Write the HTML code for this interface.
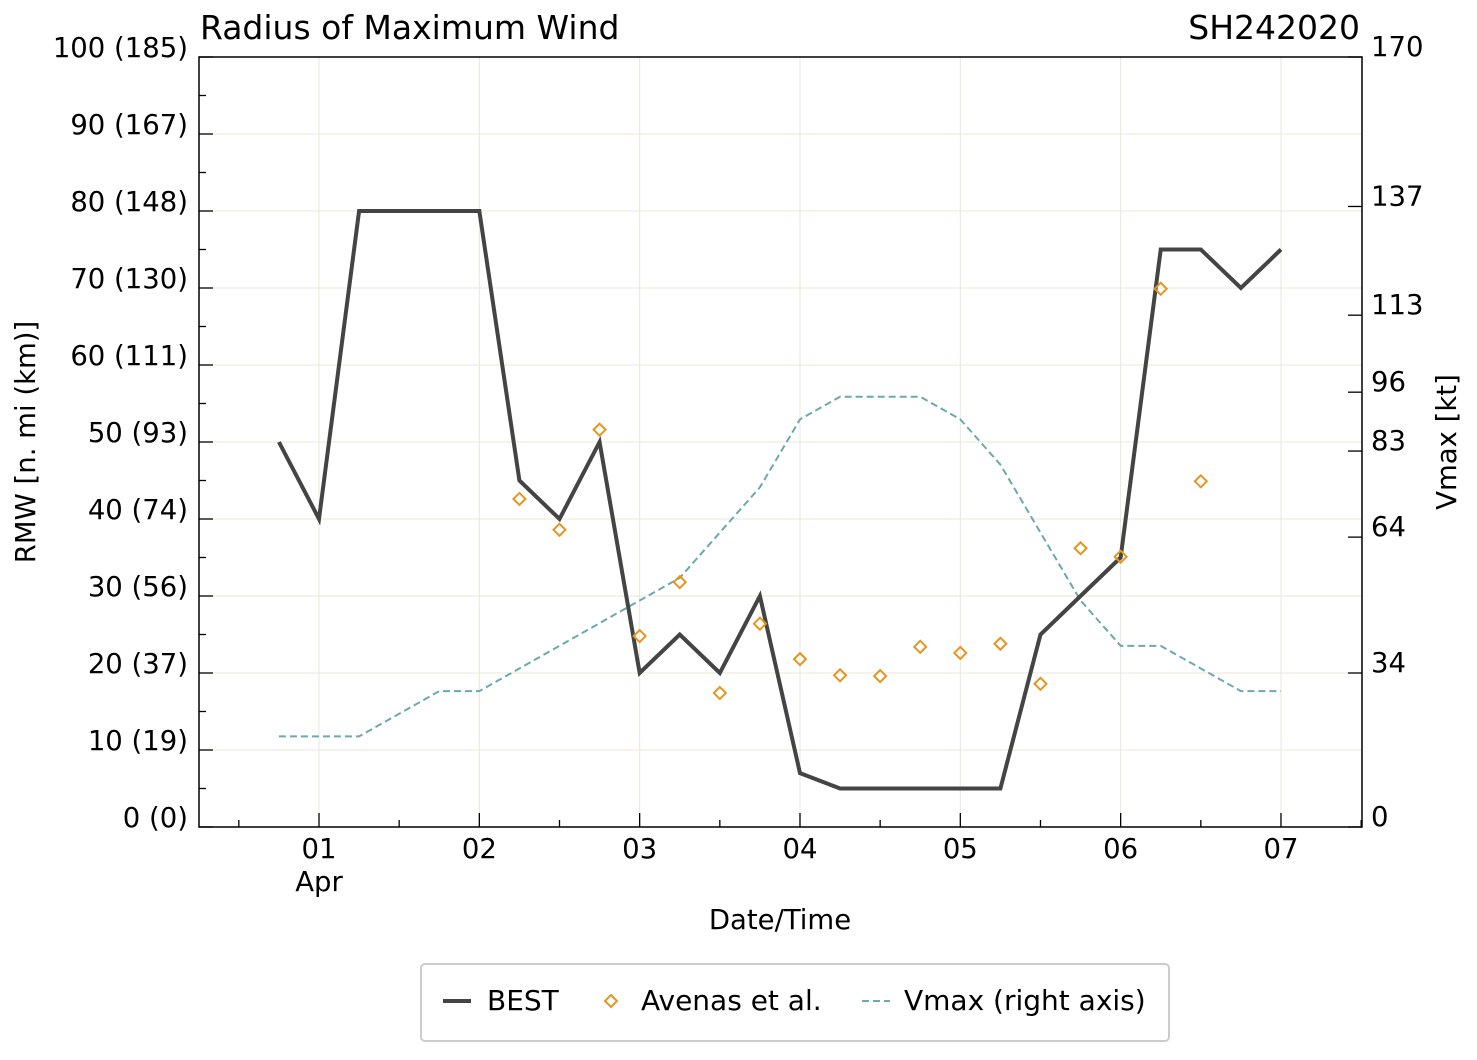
<!DOCTYPE html>
<html><head><meta charset="utf-8"><style>
body{margin:0;background:#fff;}
svg text{font-family:"DejaVu Sans","Liberation Sans",sans-serif;fill:#000;}
</style></head><body>
<svg id="c" width="1477" height="1055"></svg>
<script>
const bestT=[-0.25,0,0.25,0.5,0.75,1,1.25,1.5,1.75,2,2.25,2.5,2.75,3,3.25,3.5,3.75,4,4.25,4.5,4.75,5,5.25,5.5,5.75,6];
const bestV=[50,40,80,80,80,80,45,40,50,20,25,20,30,7,5,5,5,5,5,25,30,35,75,75,70,75];
const avT=[1.25,1.5,1.75,2,2.25,2.5,2.75,3,3.25,3.5,3.75,4,4.25,4.5,4.75,5,5.25,5.5];
const avV=[42.6,38.6,51.6,24.8,31.8,17.4,26.4,21.8,19.7,19.6,23.4,22.6,23.8,18.6,36.2,35.1,69.9,44.9];
const vmT=[-0.25,0,0.25,0.5,0.75,1,1.25,1.5,1.75,2,2.25,2.5,2.75,3,3.25,3.5,3.75,4,4.25,4.5,4.75,5,5.25,5.5,5.75,6];
const vmV=[20,20,20,25,30,30,35,40,45,50,55,65,75,90,95,95,95,90,80,65,50,40,40,35,30,30];
const leftTicks=[0,10,20,30,40,50,60,70,80,90,100];
const leftLabels=["0 (0)","10 (19)","20 (37)","30 (56)","40 (74)","50 (93)","60 (111)","70 (130)","80 (148)","90 (167)","100 (185)"];
const rightTicks=[0,34,64,83,96,113,137,170];
const dayLabels=["01","02","03","04","05","06","07"];
const L=199,R=1362,T=57,B=827;
const x=d=>319+160.33*d;
const y=v=>B-(B-T)*v/100;
const yr=v=>B-(B-T)*v/170;
const svg=document.getElementById('c');
const NS='http://www.w3.org/2000/svg';
function mk(tag,attrs,parent){const e=document.createElementNS(NS,tag);for(const k in attrs)e.setAttribute(k,attrs[k]);(parent||svg).appendChild(e);return e;}
function txt(s,attrs){const e=mk('text',attrs);e.textContent=s;return e;}
leftTicks.forEach(v=>{const g=mk('line',{x1:L,x2:R,y1:y(v),y2:y(v),stroke:'#ece6da','stroke-width':1});

});
dayLabels.forEach((d,i)=>{const g=mk('line',{x1:x(i),x2:x(i),y1:T,y2:B,stroke:'#ece6da','stroke-width':1});

});
for(let v=0;v<=100;v+=5){const major=v%10==0;const t=mk('line',{x1:L,x2:L+(major?14:7),y1:y(v),y2:y(v),stroke:'#000','stroke-width':1.3});

}
leftTicks.forEach((v,i)=>{const t=txt(leftLabels[i],{x:188,y:y(v)-0,'font-size':27.5,'text-anchor':'end'});

});
rightTicks.forEach(v=>{const t=mk('line',{x1:R-14,x2:R,y1:yr(v),y2:yr(v),stroke:'#000','stroke-width':1.3});


const l=txt(String(v),{x:1371,y:yr(v)-1,'font-size':27.5});

});
for(let d=-0.5;d<=6.5;d+=0.5){const major=Number.isInteger(d);const t=mk('line',{x1:x(d),x2:x(d),y1:B,y2:B-(major?14:7),stroke:'#000','stroke-width':1.3});

}
dayLabels.forEach((s,i)=>{const t=txt(s,{x:x(i),y:858,'font-size':27.5,'text-anchor':'middle'});

});
const fr=mk('rect',{x:L,y:T,width:R-L,height:B-T,fill:'none',stroke:'#000','stroke-width':1.5});


const vp=mk('polyline',{points:vmT.map((t,i)=>x(t)+','+yr(vmV[i])).join(' '),fill:'none',stroke:'#6aa9ad','stroke-width':2,'stroke-dasharray':'7,4'});


const bp=mk('polyline',{points:bestT.map((t,i)=>x(t)+','+y(bestV[i])).join(' '),fill:'none',stroke:'#444','stroke-width':4});


avT.forEach((t,i)=>{const cx=x(t),cy=y(avV[i]);const p=mk('polygon',{points:`${cx},${cy-6} ${cx+6},${cy} ${cx},${cy+6} ${cx-6},${cy}`,fill:'none',stroke:'#e69520','stroke-width':2});

});
</script>
<svg width="1477" height="1055" style="position:absolute;left:0;top:0">
<text x="200" y="39" font-size="33">Radius of Maximum Wind</text>
<text x="1360" y="39" font-size="33" text-anchor="end">SH242020</text>
<text x="319" y="891" font-size="27.5" text-anchor="middle">Apr</text>
<text x="780" y="929" font-size="27.5" text-anchor="middle">Date/Time</text>
<text transform="translate(35,442) rotate(-90)" font-size="27.5" text-anchor="middle">RMW [n. mi (km)]</text>
<text transform="translate(1456,442) rotate(-90)" font-size="27.5" text-anchor="middle">Vmax [kt]</text>
<g>
<rect x="421" y="964" width="748" height="77" rx="4" fill="#fff" stroke="#ccc" stroke-width="2"/>
<line x1="443" y1="1001" x2="471" y2="1001" stroke="#444" stroke-width="4"/>
<text x="487" y="1010" font-size="28">BEST</text>
<polygon points="611,995 617,1001 611,1007 605,1001" fill="none" stroke="#e69520" stroke-width="2"/>
<text x="641" y="1010" font-size="28">Avenas et al.</text>
<line x1="862" y1="1001" x2="890" y2="1001" stroke="#6aa9ad" stroke-width="2" stroke-dasharray="7,4"/>
<text x="904" y="1010" font-size="28">Vmax (right axis)</text>
</g>
</svg>
</body></html>
